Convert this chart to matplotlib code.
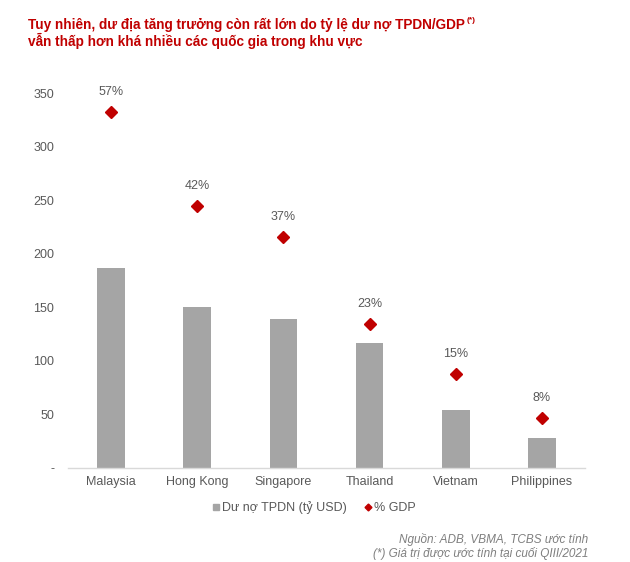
import matplotlib
matplotlib.use("Agg")
import matplotlib.pyplot as plt
from matplotlib.lines import Line2D

plt.rcParams['font.family'] = ['Liberation Sans', 'DejaVu Sans']

countries = ["Malaysia", "Hong Kong", "Singapore", "Thailand", "Vietnam", "Philippines"]
debt_bn_usd = [186.5, 150.7, 138.9, 116.5, 54.5, 28.0]
pct_gdp = [57, 42, 37, 23, 15, 8]
pct_labels = ["57%", "42%", "37%", "23%", "15%", "8%"]
y_ticks = [0, 50, 100, 150, 200, 250, 300, 350]
y_tick_labels = ["-", "50", "100", "150", "200", "250", "300", "350"]

title_line1 = "Tuy nhiên, dư địa tăng trưởng còn rất lớn do tỷ lệ dư nợ TPDN/GDP"
title_sup = "(*)"
title_line2 = "vẫn thấp hơn khá nhiều các quốc gia trong khu vực"
legend_labels = ["Dư nợ TPDN (tỷ USD)", "% GDP"]
source_lines = ["Nguồn: ADB, VBMA, TCBS ước tính", "(*) Giá trị được ước tính tại cuối QIII/2021"]

RED = "#C00000"
GRAY_TXT = "#595959"
BAR = "#A5A5A5"

fig = plt.figure(figsize=(6.3, 5.62), dpi=100)
fig.patch.set_facecolor("white")
ax = fig.add_axes([68/630, 1-468/562, (585-68)/630, (468-93.3)/562])
x = list(range(len(countries)))
ax.bar(x, debt_bn_usd, width=0.32, color=BAR, zorder=2)
ax.set_xlim(-0.5, len(countries)-0.5)
ax.set_ylim(0, 350)
ax.set_yticks(y_ticks)
ax.set_yticklabels(y_tick_labels)
ax.set_xticks(x)
ax.set_xticklabels(countries)
ax.tick_params(axis='y', length=0, pad=10, labelsize=9, labelcolor=GRAY_TXT)
ax.tick_params(axis='x', length=0, pad=6, labelsize=9, labelcolor=GRAY_TXT)
for s in ["top", "right", "left"]:
    ax.spines[s].set_visible(False)
ax.spines["bottom"].set_color("#D9D9D9")
ax.spines["bottom"].set_linewidth(1.0)
ax.set_facecolor("none")

ax2 = ax.twinx()
ax2.set_ylim(0, 60)
ax2.axis("off")
ax2.plot(x, pct_gdp, linestyle="none", marker="D", markersize=6.2, color=RED, zorder=3)
for xi, yi, lab in zip(x, pct_gdp, pct_labels):
    ax2.annotate(lab, (xi, yi), xytext=(0, 14.5), textcoords="offset points",
                 ha="center", va="center", fontsize=9, color=GRAY_TXT, annotation_clip=False)

# Title
t1 = fig.text(28/630, 1-29/562, title_line1, fontsize=9.8, fontweight="bold", color=RED,
              ha="left", va="baseline")
fig.canvas.draw()
bb = t1.get_window_extent(renderer=fig.canvas.get_renderer())
fig.text(bb.x1/630 + 0.002, 1-22/562, title_sup, fontsize=6, fontweight="bold", color=RED,
         ha="left", va="baseline")
fig.text(28/630, 1-46/562, title_line2, fontsize=9.8, fontweight="bold", color=RED,
         ha="left", va="baseline")

# Legend
handles = [Line2D([], [], linestyle="none", marker="s", markersize=4.5, color=BAR),
           Line2D([], [], linestyle="none", marker="D", markersize=3.5, color=RED)]
fig.legend(handles, legend_labels, loc="center", bbox_to_anchor=(313/630, 1-508/562), ncol=2,
           frameon=False, fontsize=9, labelcolor=GRAY_TXT, handletextpad=0.05,
           columnspacing=1.2, handlelength=0.9)

# Source
fig.text(588/630, 1-540/562, source_lines[0], fontsize=8.5, style="italic", color="#7F7F7F",
         ha="right", va="center")
fig.text(588/630, 1-553.5/562, source_lines[1], fontsize=8.5, style="italic", color="#7F7F7F",
         ha="right", va="center")

fig.savefig("out.png", dpi=100, facecolor="white")
